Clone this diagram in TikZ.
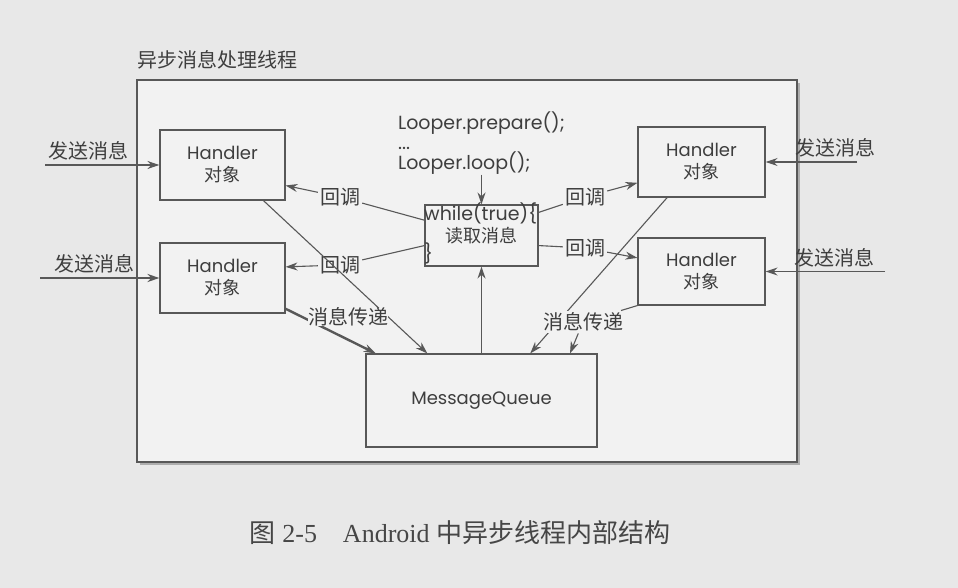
\documentclass[tikz,border=0pt]{standalone}
\usepackage{fontspec}
\setmainfont{Liberation Serif}
\newfontfamily\cjk{Noto Sans CJK SC}
\newfontfamily\gothic{Poppins}
\usetikzlibrary{arrows.meta,positioning,shadows}

\begin{document}
\begin{tikzpicture}[x=1pt,y=-1pt,
    box/.style={rectangle, draw=linegray, line width=1.1pt, fill=innergray, text=textgray,
        font=\gothic\fontsize{18}{22}\selectfont, align=center},
    code/.style={text=textgray, font=\gothic\fontsize{19}{20}\selectfont, inner sep=0pt},
    lbl/.style={text=textgray, font=\cjk\fontsize{20}{22}\selectfont, inner sep=2pt},
    cblbl/.style={lbl, fill=innergray},
    link/.style={draw=linegray, line width=1.1pt, -{Stealth[length=12pt,width=8pt]}},
    fat/.style={line width=2.4pt}]
    % Define colors
    \definecolor{pagegray}{RGB}{232,232,232}
    \definecolor{innergray}{RGB}{242,242,242}
    \definecolor{linegray}{RGB}{88,88,88}
    \definecolor{textgray}{RGB}{62,62,62}
    \definecolor{captiongray}{RGB}{70,70,70}

    % Page
    \fill[pagegray] (0,0) rectangle (958,588);
    \useasboundingbox (0,0) rectangle (958,588);

    % Thread frame
    \node[draw=linegray, line width=1.1pt, fill=innergray, minimum width=660pt, minimum height=382pt,
        drop shadow={shadow xshift=3pt, shadow yshift=-3pt, fill=black!55}] (thread) at (467,271) {};
    \node[lbl, anchor=west, inner sep=0pt] (title) at (137,60) {异步消息处理线程};

    % Draw nodes
    \node[box, minimum width=125pt, minimum height=70pt] (hTL) at (222.5,165) {Handler\\{\cjk 对象}};
    \node[box, minimum width=125pt, minimum height=70pt] (hBL) at (222.5,278) {Handler\\{\cjk 对象}};
    \node[box, minimum width=127pt, minimum height=70pt] (hTR) at (701.5,162) {Handler\\{\cjk 对象}};
    \node[box, minimum width=127pt, minimum height=67pt] (hBR) at (701.5,271.5) {Handler\\{\cjk 对象}};
    \node[box, minimum width=113pt, minimum height=61pt] (loop) at (481.5,235.5) {\cjk 读取消息};
    \node[code, anchor=west] (whl) at (424,213) {while(true)\{};
    \node[code, anchor=west] (brc) at (424,253) {\}};
    \node[code, align=left] (looper) at (481.5,143) {Looper.prepare();\\...\\Looper.loop();};
    \node[box, minimum width=231pt, minimum height=93pt] (mq) at (481.5,400.5) {MessageQueue};

    % Outside senders
    \coordinate (sTL) at (45,165);
    \coordinate (sBL) at (40,278);
    \coordinate (sTR) at (857,162);
    \coordinate (sBR) at (885,271.5);
    \draw[link] (sTL) -- (hTL) node[lbl, pos=0.38, above=2pt] {发送消息};
    \draw[link, fat] (sBL) -- (hBL) node[lbl, pos=0.46, above=2pt] {发送消息};
    \draw[link] (sTR) -- (hTR) node[lbl, pos=0.24, above=2pt] {发送消息};
    \draw[link] (sBR) -- (hBR) node[lbl, pos=0.42, above=2pt] {发送消息};

    % Looper
    \draw[link] (looper.south) -- (loop.north);
    \draw[link] (mq.north) -- (loop.south);

    % Callbacks
    \node[cblbl] (cbTL) at (340,197) {回调};
    \node[cblbl] (cbBL) at (340,265) {回调};
    \node[cblbl] (cbTR) at (585,197) {回调};
    \node[cblbl] (cbBR) at (585,248) {回调};
    \draw[link] (loop.165) -- (cbTL) -- (hTL.-18);
    \draw[link] (loop.-170) -- (cbBL) -- (hBL.10);
    \draw[link] (loop.22) -- (cbTR) -- (hTR.-162);
    \draw[link] (loop.-10) -- (cbBR) -- (hBR.168);

    % Message passing
    \draw[link] (hTL.-41) -- (mq.139.5);
    \draw[link] (hTR.-134) -- (mq.44);
    \draw[link, fat] (hBL.-26) -- (mq.156);
    \node[cblbl, inner sep=0pt] (msgL) at (348,317) {消息传递};
    \node[cblbl] (msgR) at (583,322) {消息传递};
    \draw[link] (hBR.-152) -- (msgR) -- (mq.28.5);

    % Caption
    \node[text=captiongray, font=\fontsize{26}{28}\selectfont] (caption) at (460,533)
        {{\cjk 图} 2-5\quad Android {\cjk 中异步线程内部结构}};
\end{tikzpicture}
\end{document}
